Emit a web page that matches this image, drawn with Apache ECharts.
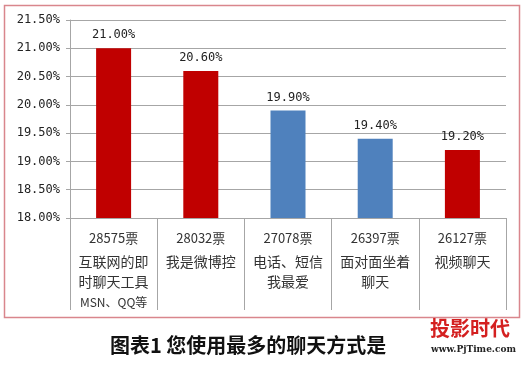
<!DOCTYPE html>
<html><head><meta charset="utf-8">
<script src="https://cdn.jsdelivr.net/npm/echarts@6/dist/echarts.min.js"></script>
<style>html,body{margin:0;padding:0;background:#fff}#c{width:523px;height:365px}</style>
</head><body><div id="c"></div>
<script>
const votes = ['28575票','28032票','27078票','26397票','26127票'];
const names = ['互联网的即\n时聊天工具\nMSN、QQ等','我是微博控','电话、短信\n我最爱','面对面坐着\n聊天','视频聊天'];
const values = [21.0, 20.6, 19.9, 19.4, 19.2];
const barColors = ['#c00000','#c00000','#4f81bd','#4f81bd','#c00000'];
const yMin = 18, yMax = 21.5, yStep = 0.5;
const title = '图表1 您使用最多的聊天方式是';

const font = '"Noto Sans CJK SC", sans-serif';
const chart = echarts.init(document.getElementById('c'), null, {renderer:'canvas'});
chart.setOption({
  animation:false,
  grid:{left:70,right:17,top:20,bottom:147},
  xAxis:{
    type:'category',
    data: votes.map((v,i)=>v+'\n'+names[i]),
    axisLine:{lineStyle:{color:'#a6a6a6'}},
    axisTick:{show:true,length:92,lineStyle:{color:'#a6a6a6'}},
    axisLabel:{
      interval:0, margin:10,
      formatter:(v)=>{const p=v.split('\n');return '{a|'+p[0]+'}\n'+p.slice(1).map(s=>(/[A-Z]/.test(s)?'{c|':'{b|')+s+'}').join('\n');},
      rich:{
        a:{fontFamily:font,fontSize:13,color:'#333',lineHeight:24,padding:[0,0,4,0]},
        b:{fontFamily:font,fontSize:14,color:'#333',lineHeight:20},
        c:{fontFamily:font,fontSize:12,color:'#333',lineHeight:20}
      }
    }
  },
  yAxis:{
    type:'value',min:yMin,max:yMax,interval:yStep,
    axisLine:{show:true,lineStyle:{color:'#a6a6a6'}},
    axisTick:{show:true,length:4,lineStyle:{color:'#a6a6a6'}},
    splitLine:{lineStyle:{color:'#a6a6a6'}},
    axisLabel:{formatter:(v)=>v.toFixed(2)+'%',fontFamily:'"DejaVu Sans Mono", monospace',fontSize:12,color:'#222',margin:10}
  },
  series:[{
    type:'bar',
    data: values.map((v,i)=>({value:v,itemStyle:{color:barColors[i]}})),
    barWidth:35,
    label:{show:true,position:'top',distance:7,formatter:(p)=>p.value.toFixed(2)+'%',fontFamily:'"DejaVu Sans Mono", monospace',fontSize:12,color:'#222'}
  }],
  graphic:[
    {type:'rect',shape:{x:4.5,y:5.5,width:515,height:312},style:{fill:'none',stroke:'#d9868d',lineWidth:1.5},silent:true},
    {type:'text',left:110,top:335,style:{text:title,font:'bold 20px "Noto Sans CJK SC", serif',fill:'#111'}},
    {type:'text',left:430,top:318,style:{text:'投影时代',font:'bold 20px "Noto Sans CJK SC", sans-serif',fill:'#d42020'}},
    {type:'text',left:431,top:345,style:{text:'www.PjTime.com',font:'bold 9px "DejaVu Serif", serif',fill:'#222'}}
  ]
});
</script></body></html>
